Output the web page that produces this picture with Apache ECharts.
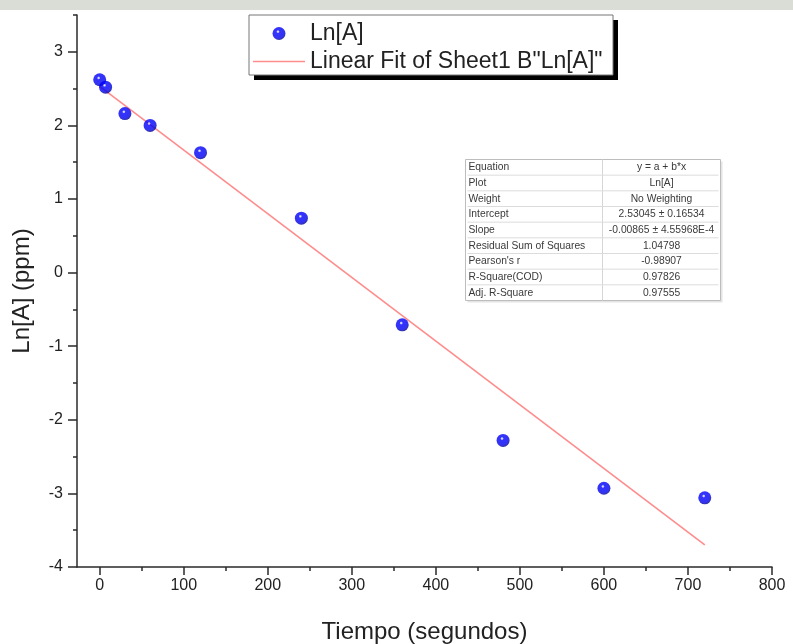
<!DOCTYPE html>
<html>
<head>
<meta charset="utf-8">
<script src="https://cdn.jsdelivr.net/npm/echarts@6/dist/echarts.min.js"></script>
<style>html,body{margin:0;padding:0;background:#fff}#c{width:793px;height:644px}</style>
</head>
<body>
<div id="c"></div>
<script>
// ---- data ----
var timeS = [0, 7, 30, 60, 120, 240, 360, 480, 600, 720];
var lnA   = [2.62, 2.52, 2.16, 2.00, 1.63, 0.74, -0.71, -2.28, -2.93, -3.06];
var fitX  = [0, 720];
var fitY  = [2.53, -3.70];
var xMajor = [0, 100, 200, 300, 400, 500, 600, 700, 800];
var xMinor = [50, 150, 250, 350, 450, 550, 650, 750];
var yMajor = [-4, -3, -2, -1, 0, 1, 2, 3];
var yMinor = [-3.5, -2.5, -1.5, -0.5, 0.5, 1.5, 2.5, 3.5];
var tableKeys = ['Equation', 'Plot', 'Weight', 'Intercept', 'Slope', 'Residual Sum of Squares', "Pearson's r", 'R-Square(COD)', 'Adj. R-Square'];
var tableVals = ['y = a + b*x', 'Ln[A]', 'No Weighting', '2.53045 \u00b1 0.16534', '-0.00865 \u00b1 4.55968E-4', '1.04798', '-0.98907', '0.97826', '0.97555'];
var scatterName = 'Ln[A]';
var fitName = 'Linear Fit of Sheet1 B"Ln[A]"';

var FONT = 'Liberation Sans, Arial, sans-serif';
var chart = echarts.init(document.getElementById('c'));

function sphere() {
  return new echarts.graphic.RadialGradient(0.42, 0.36, 0.62, [
    {offset: 0, color: '#ffffff'},
    {offset: 0.1, color: '#b0b0ff'},
    {offset: 0.22, color: '#0000ff'},
    {offset: 0.8, color: '#0000ee'},
    {offset: 1, color: '#000098'}
  ]);
}

// table graphic
var tblW = 255, tblH = 141, rowH = tblH / tableKeys.length, colX = 137;
var tblChildren = [
  {type: 'rect', shape: {x: 2, y: 2, width: tblW, height: tblH}, style: {fill: '#e4e4e4'}},
  {type: 'rect', shape: {x: 0, y: 0, width: tblW, height: tblH}, style: {fill: '#fff', stroke: '#bdbdbd', lineWidth: 1}},
  {type: 'line', shape: {x1: colX, y1: 0, x2: colX, y2: tblH}, style: {stroke: '#d6d6d6', lineWidth: 1}}
];
for (var i = 0; i < tableKeys.length; i++) {
  if (i > 0) tblChildren.push({type: 'line', shape: {x1: 2, y1: i * rowH, x2: tblW - 2, y2: i * rowH}, style: {stroke: '#dcdcdc', lineWidth: 1}});
  tblChildren.push({type: 'text', x: 3, y: i * rowH + rowH / 2, style: {text: tableKeys[i], font: '10.3px ' + FONT, fill: '#3a3a3a', verticalAlign: 'middle'}});
  tblChildren.push({type: 'text', x: (colX + tblW) / 2, y: i * rowH + rowH / 2, style: {text: tableVals[i], font: '10.3px ' + FONT, fill: '#3a3a3a', verticalAlign: 'middle', align: 'center'}});
}

var axisLineStyle = {color: '#2a2a2a', width: 1.5};
var option = {
  animation: false,
  backgroundColor: '#fff',
  grid: {left: 77, right: 21, top: 15, bottom: 77, outerBoundsMode: 'none', containLabel: false},
  legend: {
    orient: 'vertical', left: 253, top: 15,
    padding: [7, 10, 5, 0], itemGap: 5, itemWidth: 52, itemHeight: 13,
    backgroundColor: 'transparent', borderWidth: 0,
    textStyle: {fontFamily: FONT, fontSize: 23, color: '#222', lineHeight: 20},
    data: [
      {name: scatterName, icon: 'circle', itemStyle: {color: sphere()}},
      {name: fitName, icon: 'path://M0,0 H52 V1.6 H0 Z', itemStyle: {color: '#ff8c8c'}}
    ]
  },
  xAxis: [
    {type: 'value', min: -27, max: 800, position: 'bottom',
     name: 'Tiempo (segundos)', nameLocation: 'middle', nameGap: 53,
     nameTextStyle: {fontFamily: FONT, fontSize: 24, color: '#222'},
     axisLine: {show: true, onZero: false, lineStyle: axisLineStyle},
     axisTick: {show: true, inside: false, length: 8, customValues: xMajor, lineStyle: axisLineStyle},
     axisLabel: {customValues: xMajor, margin: 11, fontFamily: FONT, fontSize: 16, color: '#222'},
     splitLine: {show: false}},
    {type: 'value', min: -27, max: 800, position: 'bottom', gridIndex: 0,
     axisLine: {show: false, onZero: false},
     axisTick: {show: true, inside: false, length: 4, customValues: xMinor, lineStyle: axisLineStyle},
     axisLabel: {show: false}, splitLine: {show: false}}
  ],
  yAxis: [
    {type: 'value', min: -4, max: 3.5, position: 'left',
     name: 'Ln[A] (ppm)', nameLocation: 'middle', nameGap: 43, nameRotate: 90,
     nameTextStyle: {fontFamily: FONT, fontSize: 24, color: '#222'},
     axisLine: {show: true, onZero: false, lineStyle: axisLineStyle},
     axisTick: {show: true, inside: false, length: 9, customValues: yMajor, lineStyle: axisLineStyle},
     axisLabel: {customValues: yMajor, margin: 14, fontFamily: FONT, fontSize: 16, color: '#222'},
     splitLine: {show: false}},
    {type: 'value', min: -4, max: 3.5, position: 'left',
     axisLine: {show: false, onZero: false},
     axisTick: {show: true, inside: false, length: 4, customValues: yMinor, lineStyle: axisLineStyle},
     axisLabel: {show: false}, splitLine: {show: false}}
  ],
  series: [
    {name: fitName, type: 'line', xAxisIndex: 0, yAxisIndex: 0, symbol: 'none', silent: true,
     lineStyle: {color: '#ff8c8c', width: 1.6},
     itemStyle: {color: '#ff8c8c'},
     data: fitX.map(function (x, k) { return [x, fitY[k]]; }), z: 2},
    {name: scatterName, type: 'scatter', xAxisIndex: 0, yAxisIndex: 0, symbol: 'circle', symbolSize: 13,
     itemStyle: {color: sphere()},
     data: timeS.map(function (x, k) { return [x, lnA[k]]; }), z: 3}
  ],
  graphic: [
    {type: 'rect', left: 0, top: 0, shape: {width: 793, height: 10}, style: {fill: '#dadcd6'}, z: -1},
    {type: 'rect', x: 254, y: 20, shape: {width: 364, height: 60}, style: {fill: '#000'}, z: 0},
    {type: 'rect', x: 249, y: 15, shape: {width: 364, height: 60}, style: {fill: '#fff', stroke: '#777', lineWidth: 1}, z: 1},
    {type: 'group', left: 465, top: 157, children: tblChildren}
  ]
};
chart.setOption(option);
</script>
</body>
</html>
